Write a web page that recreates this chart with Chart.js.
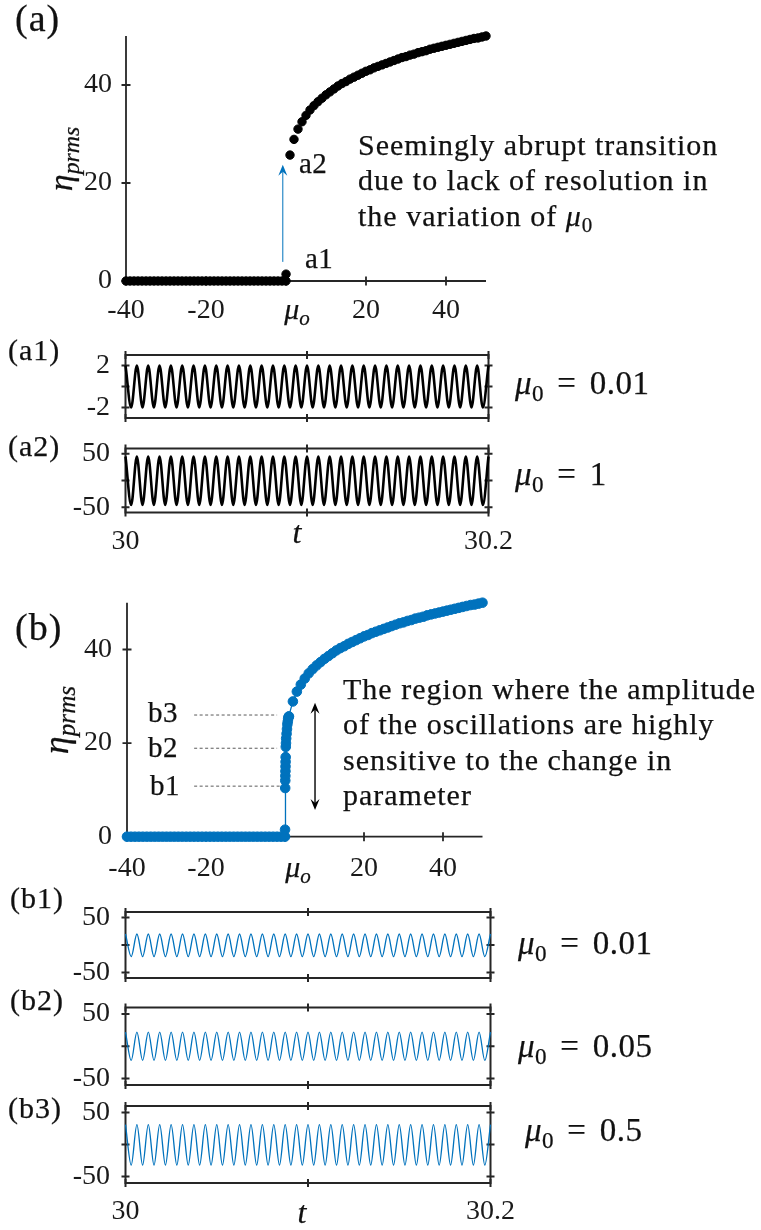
<!DOCTYPE html>
<html><head><meta charset="utf-8">
<script src="https://cdn.jsdelivr.net/npm/chart.js@4.4.1/dist/chart.umd.min.js"></script>
<style>
html,body{margin:0;padding:0;background:#fff;}
#wrap{position:relative;width:761px;height:1230px;overflow:hidden;background:#fff;}
canvas{position:absolute;left:0;}
.tx{position:absolute;font-family:'Liberation Serif','Times New Roman',serif;color:#111;white-space:nowrap;line-height:1;-webkit-text-stroke:0.25px #111;}
.tx i{font-style:italic;}
.sb{position:relative;top:0.28em;font-size:0.7em;font-style:italic;}
.sbu{position:relative;top:0.28em;font-size:0.7em;}
.eq{margin:0 0.4em;}
</style></head><body><div id="wrap">
<canvas id="cA" width="761" height="335" style="top:0px;width:761px;height:335px"></canvas>
<canvas id="cA1" width="761" height="90" style="top:340px;width:761px;height:90px"></canvas>
<canvas id="cA2" width="761" height="130" style="top:430px;width:761px;height:130px"></canvas>
<canvas id="cB" width="761" height="320" style="top:570px;width:761px;height:320px"></canvas>
<canvas id="cB1" width="761" height="90" style="top:895px;width:761px;height:90px"></canvas>
<canvas id="cB2" width="761" height="100" style="top:990px;width:761px;height:100px"></canvas>
<canvas id="cB3" width="761" height="140" style="top:1090px;width:761px;height:140px"></canvas>
</div>
<script>
// ---------------- data ----------------
const muNeg = [-40,-39,-38,-37,-36,-35,-34,-33,-32,-31,-30,-29,-28,-27,-26,-25,-24,-23,-22,-21,-20,-19,-18,-17,-16,-15,-14,-13,-12,-11,-10,-9,-8,-7,-6,-5,-4,-3,-2,-1,0];
const etaNeg = [0,0,0,0,0,0,0,0,0,0,0,0,0,0,0,0,0,0,0,0,0,0,0,0,0,0,0,0,0,0,0,0,0,0,0,0,0,0,0,0,0];
const muPos = [1,2,3,4,5,6,7,8,9,10,11,12,13,14,15,16,17,18,19,20,21,22,23,24,25,26,27,28,29,30,31,32,33,34,35,36,37,38,39,40,41,42,43,44,45,46,47,48,49,50];
const etaPos = [25.7,28.9,31.0,32.5,33.8,34.9,35.8,36.6,37.3,38.0,38.6,39.2,39.8,40.3,40.7,41.2,41.6,42.0,42.4,42.8,43.1,43.5,43.8,44.1,44.4,44.7,45.0,45.3,45.6,45.8,46.1,46.3,46.6,46.8,47.0,47.3,47.5,47.7,47.9,48.1,48.3,48.5,48.7,48.9,49.1,49.3,49.5,49.6,49.8,50.0];
// panel (a): single point just after onset
const muOnsetA = [0.01];
const etaOnsetA = [1.4];
// panel (b): fine resolution just after onset
const muOnsetB = [0.01,0.05,0.07,0.09,0.11,0.13,0.15,0.17,0.2,0.25,0.3,0.4,0.5,0.6,0.7,0.8,0.9];
const etaOnsetB = [1.5,10.4,12.0,13.0,14.0,15.0,16.0,17.0,19.2,20.0,21.0,22.0,23.0,24.0,24.6,25.2,25.6];

// time series: extrema times and values
const tExt = [30,30.003125,30.00625,30.009375,30.0125,30.015625,30.01875,30.021875,30.025,30.028125,30.03125,30.034375,30.0375,30.040625,30.04375,30.046875,30.05,30.053125,30.05625,30.059375,30.0625,30.065625,30.06875,30.071875,30.075,30.078125,30.08125,30.084375,30.0875,30.090625,30.09375,30.096875,30.1,30.103125,30.10625,30.109375,30.1125,30.115625,30.11875,30.121875,30.125,30.128125,30.13125,30.134375,30.1375,30.140625,30.14375,30.146875,30.15,30.153125,30.15625,30.159375,30.1625,30.165625,30.16875,30.171875,30.175,30.178125,30.18125,30.184375,30.1875,30.190625,30.19375,30.196875,30.2];
const a1Vals = [2,-2,2,-2,2,-2,2,-2,2,-2,2,-2,2,-2,2,-2,
 2,-2,2,-2,2,-2,2,-2,2,-2,2,-2,2,-2,2,-2,
 2,-2,2,-2,2,-2,2,-2,2,-2,2,-2,2,-2,2,-2,
 2,-2,2,-2,2,-2,2,-2,2,-2,2,-2,2,-2,2,-2,
 2];
const a2Vals = [45,-46,45,-46,45,-46,45,-46,45,-46,45,-46,45,-46,45,-46,
 45,-46,45,-46,45,-46,45,-46,45,-46,45,-46,45,-46,45,-46,
 45,-46,45,-46,45,-46,45,-46,45,-46,45,-46,45,-46,45,-46,
 45,-46,45,-46,45,-46,45,-46,45,-46,45,-46,45,-46,45,-46,
 45];
const b1Vals = [20,-21,20,-21,20,-21,20,-21,20,-21,20,-21,20,-21,20,-21,
 20,-21,20,-21,20,-21,20,-21,20,-21,20,-21,20,-21,20,-21,
 20,-21,20,-21,20,-21,20,-21,20,-21,20,-21,20,-21,20,-21,
 20,-21,20,-21,20,-21,20,-21,20,-21,20,-21,20,-21,20,-21,
 20];
const b2Vals = [22,-22,22,-22,22,-22,22,-22,22,-22,22,-22,22,-22,22,-22,
 22,-22,22,-22,22,-22,22,-22,22,-22,22,-22,22,-22,22,-22,
 22,-22,22,-22,22,-22,22,-22,22,-22,22,-22,22,-22,22,-22,
 22,-22,22,-22,22,-22,22,-22,22,-22,22,-22,22,-22,22,-22,
 22];
const b3Vals = [31,-32,31,-32,31,-32,31,-32,31,-32,31,-32,31,-32,31,-32,
 31,-32,31,-32,31,-32,31,-32,31,-32,31,-32,31,-32,31,-32,
 31,-32,31,-32,31,-32,31,-32,31,-32,31,-32,31,-32,31,-32,
 31,-32,31,-32,31,-32,31,-32,31,-32,31,-32,31,-32,31,-32,
 31];

// ticks
const muTicks = [-40,-20,0,20,40];
const muTickLabels = ['-40','-20','','20','40'];
const etaTicks = [0,20,40];
const etaTickLabels = ['0','20','40'];
const tTicks = [30,30.1,30.2];
const tTickLabels = ['30','','30.2'];
const smallTicks = [-2,0,2];
const smallTickLabels = ['-2','','2'];
const bigTicks = [-50,0,50];
const bigTickLabels = ['-50','','50'];

// annotation anchors (data units)
const arrowA = {x:-0.8, y0:3.9, y1:23.7};
const dashB = [{y:26.0,x0:-23,x1:-2},{y:18.9,x0:-23,x1:-2},{y:10.8,x0:-23,x1:-1.3}];
const arrowB = {x:7.6, y0:5.7, y1:28.6};

// ---------------- helpers ----------------
const AXC = '#262626', BLUE = '#0072BD';
const FAM = "'Liberation Serif','Times New Roman',serif";
function pts(xs, ys){ return xs.map((v,i)=>({x:v,y:ys[i]})); }

const axisPlugin = {
  id:'axisPlugin',
  beforeDatasetsDraw(chart, args, o){
    const {ctx, chartArea:ca, scales:{x,y}} = chart;
    ctx.save();
    ctx.strokeStyle = AXC; ctx.lineWidth = o.lw; ctx.lineCap='butt';
    ctx.beginPath();
    if (o.box){
      ctx.rect(ca.left, ca.top, ca.right-ca.left, ca.bottom-ca.top);
    } else {
      ctx.moveTo(ca.left, ca.top); ctx.lineTo(ca.left, ca.bottom); ctx.lineTo(ca.right, ca.bottom);
    }
    ctx.stroke();
    const tk = o.tick;
    ctx.beginPath();
    x.ticks.forEach(t=>{
      const px = x.getPixelForValue(t.value);
      ctx.moveTo(px, ca.bottom-tk); ctx.lineTo(px, ca.bottom+tk);
      if (o.box){ ctx.moveTo(px, ca.top-tk); ctx.lineTo(px, ca.top+tk); }
    });
    y.ticks.forEach(t=>{
      const py = y.getPixelForValue(t.value);
      ctx.moveTo(ca.left-tk, py); ctx.lineTo(ca.left+tk, py);
      if (o.box){ ctx.moveTo(ca.right-tk, py); ctx.lineTo(ca.right+tk, py); }
    });
    ctx.stroke();
    ctx.restore();
  }
};

function head(ctx, px, tip, dir, w, len, notch){
  ctx.beginPath();
  ctx.moveTo(px, tip);
  ctx.lineTo(px - w, tip + dir*len);
  ctx.lineTo(px, tip + dir*notch);
  ctx.lineTo(px + w, tip + dir*len);
  ctx.closePath();
  ctx.fill();
}

const annoPlugin = {
  id:'annoPlugin',
  afterDatasetsDraw(chart, args, o){
    const {ctx, scales:{x,y}} = chart;
    (o.items||[]).forEach(it=>{
      ctx.save();
      if (it.type==='dash'){
        ctx.strokeStyle = '#5a5a5a'; ctx.lineWidth = 1; ctx.setLineDash([3,2.5]);
        const py = y.getPixelForValue(it.y);
        ctx.beginPath(); ctx.moveTo(x.getPixelForValue(it.x0), py); ctx.lineTo(x.getPixelForValue(it.x1), py); ctx.stroke();
      } else {
        const px = x.getPixelForValue(it.x);
        const p0 = y.getPixelForValue(it.y0), p1 = y.getPixelForValue(it.y1);
        ctx.strokeStyle = it.color; ctx.fillStyle = it.color; ctx.lineWidth = it.lw;
        ctx.beginPath();
        const start = it.double ? p0 - 7 : p0;
        ctx.moveTo(px, start); ctx.lineTo(px, p1 + 7); ctx.stroke();
        head(ctx, px, p1, 1, 4.5, 11, 7);
        if (it.double) head(ctx, px, p0, -1, 4.5, 11, 7);
      }
      ctx.restore();
    });
  }
};

function build(id, top, h, area, o){
  const cv = document.getElementById(id);
  const padTop = area.t - top;
  const padBottom = h - (area.b - top) - o.hx;
  return new Chart(cv, {
    type:'scatter',
    data:{datasets:o.datasets},
    plugins:[axisPlugin, annoPlugin],
    options:{
      responsive:false, animation:false, devicePixelRatio:1,
      layout:{padding:{left:0,right:761-area.r,top:padTop,bottom:padBottom}},
      plugins:{legend:{display:false}, tooltip:{enabled:false},
        axisPlugin:{box:o.box, lw:o.lw, tick:o.tick},
        annoPlugin:{items:o.items||[]}},
      scales:{
        x:{type:'linear', min:o.xmin, max:o.xmax,
          afterBuildTicks(s){ s.ticks = o.xt.map(v=>({value:v})); },
          afterFit(s){ s.height = o.hx; s.paddingLeft=0; s.paddingRight=0; s.paddingTop=0; s.paddingBottom=0; },
          ticks:{display:o.xShow, autoSkip:false, maxRotation:0, minRotation:0, padding:o.xPad, color:'#1a1a1a',
            font:{family:FAM, size:o.xFs, lineHeight:1.2},
            callback:(v,i)=>o.xl[i]},
          grid:{display:false, drawTicks:false}, border:{display:false}},
        y:{type:'linear', min:o.ymin, max:o.ymax,
          afterBuildTicks(s){ s.ticks = o.yt.map(v=>({value:v})); },
          afterFit(s){ s.width = area.l; s.paddingLeft=0; s.paddingRight=0; s.paddingTop=0; s.paddingBottom=0; },
          ticks:{display:true, autoSkip:false, padding:o.yPad, color:'#1a1a1a',
            font:{family:FAM, size:o.yFs, lineHeight:1.2},
            callback:(v,i)=>o.yl[i]},
          grid:{display:false, drawTicks:false}, border:{display:false}}
      }
    }
  });
}

// ---------------- main panels ----------------
build('cA', 0, 335, {l:126, r:486, t:36, b:281}, {
  hx:40, box:false, lw:1.8, tick:4.5,
  xmin:-40, xmax:50, xt:muTicks, xl:muTickLabels, xShow:true, xPad:13, xFs:28,
  ymin:0, ymax:50, yt:etaTicks, yl:etaTickLabels, yPad:14, yFs:28,
  datasets:[{data:pts(muNeg,etaNeg).concat(pts(muOnsetA,etaOnsetA), pts(muPos,etaPos)),
    showLine:false, pointRadius:4.2, pointBorderWidth:1, pointBackgroundColor:'#000', pointBorderColor:'#000', clip:false}],
  items:[{type:'arrow', x:arrowA.x, y0:arrowA.y0, y1:arrowA.y1, color:BLUE, lw:1, double:false}]
});

build('cB', 570, 320, {l:127, r:482.5, t:602.7, b:836.7}, {
  hx:40, box:false, lw:1.8, tick:4.5,
  xmin:-40, xmax:50, xt:muTicks, xl:muTickLabels, xShow:true, xPad:15.5, xFs:28,
  ymin:0, ymax:50, yt:etaTicks, yl:etaTickLabels, yPad:15, yFs:28,
  datasets:[{data:pts(muNeg,etaNeg).concat(pts(muOnsetB,etaOnsetB), pts(muPos,etaPos)),
    showLine:true, borderColor:BLUE, borderWidth:1.3, pointRadius:4.8, pointBorderWidth:1,
    pointBackgroundColor:BLUE, pointBorderColor:BLUE, clip:false}],
  items:dashB.map(d=>({type:'dash', y:d.y, x0:d.x0, x1:d.x1})).concat(
    [{type:'arrow', x:arrowB.x, y0:arrowB.y0, y1:arrowB.y1, color:'#000', lw:1.4, double:true}])
});

// ---------------- time series ----------------
function ts(id, top, h, area, vals, yt, yl, ymin, ymax, showX, color, lw){
  build(id, top, h, area, {
    hx: showX ? 40 : 4, box:true, lw:2, tick:4,
    xmin:30, xmax:30.2, xt:tTicks, xl:tTickLabels, xShow:showX, xPad:12, xFs:28,
    ymin:ymin, ymax:ymax, yt:yt, yl:yl, yPad:15.5, yFs:28,
    datasets:[{data:pts(tExt, vals), showLine:true, pointRadius:0, borderColor:color, borderWidth:lw,
      cubicInterpolationMode:'monotone', clip:false}]
  });
}
ts('cA1', 340, 90, {l:125.5, r:488.5, t:355, b:418}, a1Vals, smallTicks, smallTickLabels, -3, 3, false, '#000', 2.6);
ts('cA2', 430, 130, {l:125.5, r:488.5, t:448.5, b:512.5}, a2Vals, bigTicks, bigTickLabels, -60, 60, true, '#000', 2.6);
ts('cB1', 895, 90, {l:125.5, r:490.5, t:912, b:978}, b1Vals, bigTicks, bigTickLabels, -60, 60, false, BLUE, 1.3);
ts('cB2', 990, 100, {l:125.5, r:490.5, t:1007.5, b:1085}, b2Vals, bigTicks, bigTickLabels, -60, 60, false, BLUE, 1.3);
ts('cB3', 1090, 140, {l:125.5, r:490.5, t:1106, b:1183}, b3Vals, bigTicks, bigTickLabels, -60, 60, true, BLUE, 1.3);

// ---------------- text overlays ----------------
const wrap = document.getElementById('wrap');
function T(html, x, base, size, opt){
  opt = opt || {};
  const d = document.createElement('div');
  d.className = 'tx';
  d.innerHTML = html;
  d.style.fontSize = size + 'px';
  d.style.left = x + 'px';
  d.style.top = (base - 0.8375*size) + 'px';
  if (opt.ls) d.style.letterSpacing = opt.ls + 'px';
  if (opt.center) d.style.transform = 'translateX(-50%)';
  wrap.appendChild(d);
  return d;
}
function R(html, cx, cy, size){
  const d = document.createElement('div');
  d.className = 'tx';
  d.innerHTML = html;
  d.style.fontSize = size + 'px';
  d.style.left = cx + 'px';
  d.style.top = cy + 'px';
  d.style.transform = 'translate(-50%,-50%) rotate(-90deg)';
  wrap.appendChild(d);
}
const MU0 = '<i>μ</i><span class="sbu">0</span>';

T('(a)', 15, 31, 38, {ls:1});
T('(a1)', 8, 360, 30, {ls:1});
T('(a2)', 8, 456, 30, {ls:1});
T('(b)', 15, 640, 38, {ls:1});
T('(b1)', 10, 908, 30, {ls:1});
T('(b2)', 10, 1010, 30, {ls:1});
T('(b3)', 8, 1118, 30, {ls:1});

R('<i>η</i><span class="sb">prms</span>', 61, 159, 34);
R('<i>η</i><span class="sb">prms</span>', 56, 720, 36);

T('<i>μ</i><span class="sb">o</span>', 297, 319, 30, {center:true});
T('<i>μ</i><span class="sb">o</span>', 298, 877, 30, {center:true});

T('a2', 299, 173, 29, {ls:0.5});
T('a1', 305, 268.5, 29, {ls:0.5});
T('b3', 148, 722, 29, {ls:0.5});
T('b2', 148, 757, 29, {ls:0.5});
T('b1', 150, 795, 29, {ls:0.5});

T('Seemingly abrupt transition', 358, 155, 30, {ls:1});
T('due to lack of resolution in', 358, 190.5, 30, {ls:1});
T('the variation of ' + MU0, 358, 226.5, 30, {ls:1});

T('The region where the amplitude', 343, 699, 30, {ls:1});
T('of the oscillations are highly', 343, 734.5, 30, {ls:1});
T('sensitive to the change in', 343, 770, 30, {ls:1});
T('parameter', 343, 805.5, 30, {ls:1});

T(MU0 + '<span class="eq">=</span>0.01', 515, 395, 33, {ls:0.5});
T(MU0 + '<span class="eq">=</span>1', 515, 486, 33, {ls:0.5});
T(MU0 + '<span class="eq">=</span>0.01', 518, 955, 33, {ls:0.5});
T(MU0 + '<span class="eq">=</span>0.05', 518, 1058, 33, {ls:0.5});
T(MU0 + '<span class="eq">=</span>0.5', 525, 1142, 33, {ls:0.5});

T('<i>t</i>', 297, 543, 32, {center:true});
T('<i>t</i>', 302, 1223, 32, {center:true});
</script>
</body></html>
